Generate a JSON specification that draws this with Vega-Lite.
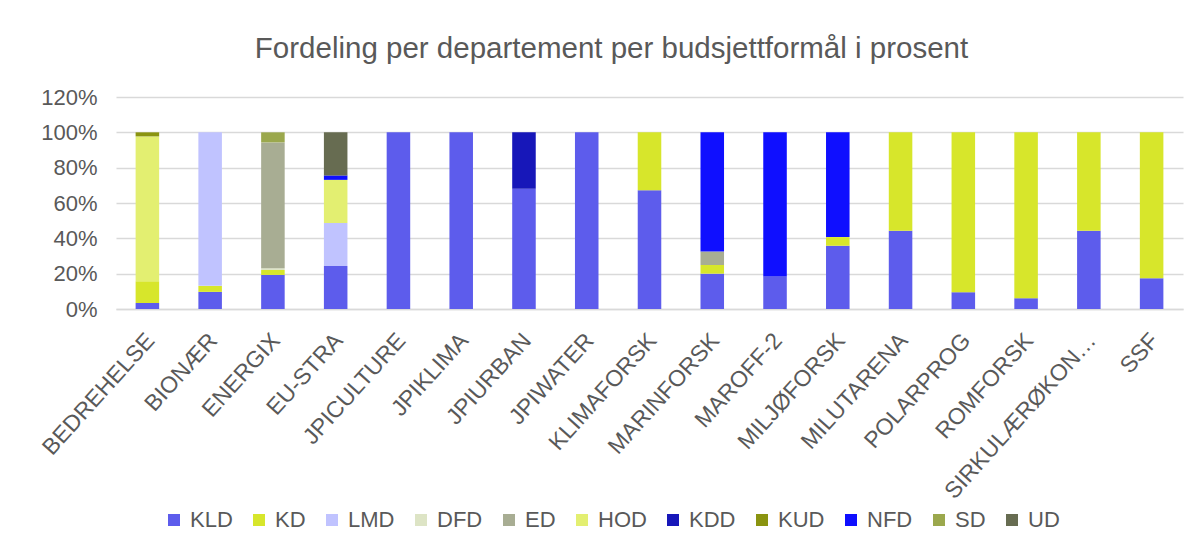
{
  "$schema": "https://vega.github.io/schema/vega-lite/v6.json",
  "width": 1067,
  "height": 212,
  "autosize": {"type": "none"},
  "padding": {"left": 116, "top": 97, "right": 14, "bottom": 243},
  "background": "white",
  "title": {
    "text": "Fordeling per departement per budsjettformål i prosent",
    "font": "Liberation Sans",
    "fontSize": 29.5,
    "fontWeight": "normal",
    "color": "#595959",
    "anchor": "middle",
    "dx": -38,
    "offset": 22
  },
  "config": {
    "view": {"stroke": null},
    "font": "Liberation Sans"
  },
  "data": {
    "values": [
      {"program": "BEDREHELSE", "dep": "KLD", "andel": 0.034},
      {"program": "BEDREHELSE", "dep": "KD", "andel": 0.123},
      {"program": "BEDREHELSE", "dep": "HOD", "andel": 0.82},
      {"program": "BEDREHELSE", "dep": "KUD", "andel": 0.023},
      {"program": "BIONÆR", "dep": "KLD", "andel": 0.097},
      {"program": "BIONÆR", "dep": "KD", "andel": 0.034},
      {"program": "BIONÆR", "dep": "LMD", "andel": 0.869},
      {"program": "ENERGIX", "dep": "KLD", "andel": 0.193},
      {"program": "ENERGIX", "dep": "KD", "andel": 0.028},
      {"program": "ENERGIX", "dep": "DFD", "andel": 0.01},
      {"program": "ENERGIX", "dep": "ED", "andel": 0.712},
      {"program": "ENERGIX", "dep": "SD", "andel": 0.057},
      {"program": "EU-STRA", "dep": "KLD", "andel": 0.244},
      {"program": "EU-STRA", "dep": "LMD", "andel": 0.243},
      {"program": "EU-STRA", "dep": "HOD", "andel": 0.244},
      {"program": "EU-STRA", "dep": "NFD", "andel": 0.025},
      {"program": "EU-STRA", "dep": "UD", "andel": 0.244},
      {"program": "JPICULTURE", "dep": "KLD", "andel": 1.0},
      {"program": "JPIKLIMA", "dep": "KLD", "andel": 1.0},
      {"program": "JPIURBAN", "dep": "KLD", "andel": 0.68},
      {"program": "JPIURBAN", "dep": "KDD", "andel": 0.32},
      {"program": "JPIWATER", "dep": "KLD", "andel": 1.0},
      {"program": "KLIMAFORSK", "dep": "KLD", "andel": 0.672},
      {"program": "KLIMAFORSK", "dep": "KD", "andel": 0.328},
      {"program": "MARINFORSK", "dep": "KLD", "andel": 0.2},
      {"program": "MARINFORSK", "dep": "KD", "andel": 0.049},
      {"program": "MARINFORSK", "dep": "ED", "andel": 0.076},
      {"program": "MARINFORSK", "dep": "NFD", "andel": 0.675},
      {"program": "MAROFF-2", "dep": "KLD", "andel": 0.186},
      {"program": "MAROFF-2", "dep": "NFD", "andel": 0.814},
      {"program": "MILJØFORSK", "dep": "KLD", "andel": 0.358},
      {"program": "MILJØFORSK", "dep": "KD", "andel": 0.049},
      {"program": "MILJØFORSK", "dep": "NFD", "andel": 0.593},
      {"program": "MILUTARENA", "dep": "KLD", "andel": 0.443},
      {"program": "MILUTARENA", "dep": "KD", "andel": 0.557},
      {"program": "POLARPROG", "dep": "KLD", "andel": 0.095},
      {"program": "POLARPROG", "dep": "KD", "andel": 0.905},
      {"program": "ROMFORSK", "dep": "KLD", "andel": 0.061},
      {"program": "ROMFORSK", "dep": "KD", "andel": 0.939},
      {"program": "SIRKULÆRØKON…", "dep": "KLD", "andel": 0.443},
      {"program": "SIRKULÆRØKON…", "dep": "KD", "andel": 0.557},
      {"program": "SSF", "dep": "KLD", "andel": 0.174},
      {"program": "SSF", "dep": "KD", "andel": 0.826}
    ]
  },
  "transform": [
    {"calculate": "indexof(['KLD','KD','LMD','DFD','ED','HOD','KDD','KUD','NFD','SD','UD'], datum.dep)", "as": "stackRank"}
  ],
  "mark": {"type": "bar"},
  "encoding": {
    "x": {
      "field": "program",
      "type": "nominal",
      "sort": null,
      "scale": {"paddingInner": 0.625, "paddingOuter": 0.3125},
      "axis": {
        "title": null,
        "labelAngle": -48,
        "labelAlign": "right",
        "labelBaseline": "top",
        "labelFont": "Liberation Sans",
        "labelFontSize": 23,
        "labelColor": "#595959",
        "labelPadding": 20,
        "labelOffset": -5,
        "labelLimit": 400,
        "ticks": false,
        "domainColor": "#d9d9d9",
        "domainWidth": 1.5,
        "grid": false
      }
    },
    "y": {
      "field": "andel",
      "type": "quantitative",
      "stack": "zero",
      "scale": {"domain": [0, 1.2], "nice": false},
      "axis": {
        "title": null,
        "format": ".0%",
        "values": [0, 0.2, 0.4, 0.6, 0.8, 1.0, 1.2],
        "labelFont": "Liberation Sans",
        "labelFontSize": 22,
        "labelColor": "#595959",
        "labelPadding": 19,
        "ticks": false,
        "domain": false,
        "gridColor": "#d9d9d9",
        "gridWidth": 1.5
      }
    },
    "order": {"field": "stackRank", "type": "quantitative", "sort": "ascending"},
    "color": {
      "field": "dep",
      "type": "nominal",
      "sort": ["KLD", "KD", "LMD", "DFD", "ED", "HOD", "KDD", "KUD", "NFD", "SD", "UD"],
      "scale": {
        "domain": ["KLD", "KD", "LMD", "DFD", "ED", "HOD", "KDD", "KUD", "NFD", "SD", "UD"],
        "range": ["#5D5CEC", "#D7E62B", "#C0C3FF", "#DDE4C5", "#A8AD93", "#E3EF71", "#1717B9", "#8A9410", "#0F0FFF", "#9BA84D", "#676C51"]
      },
      "legend": {
        "title": null,
        "orient": "none",
        "direction": "horizontal",
        "columns": 11,
        "legendX": 47,
        "legendY": 412,
        "symbolType": "square",
        "symbolSize": 144,
        "symbolStrokeWidth": 0,
        "labelFont": "Liberation Sans",
        "labelFontSize": 22,
        "labelColor": "#595959",
        "labelOffset": 5,
        "columnPadding": 15
      }
    }
  }
}
